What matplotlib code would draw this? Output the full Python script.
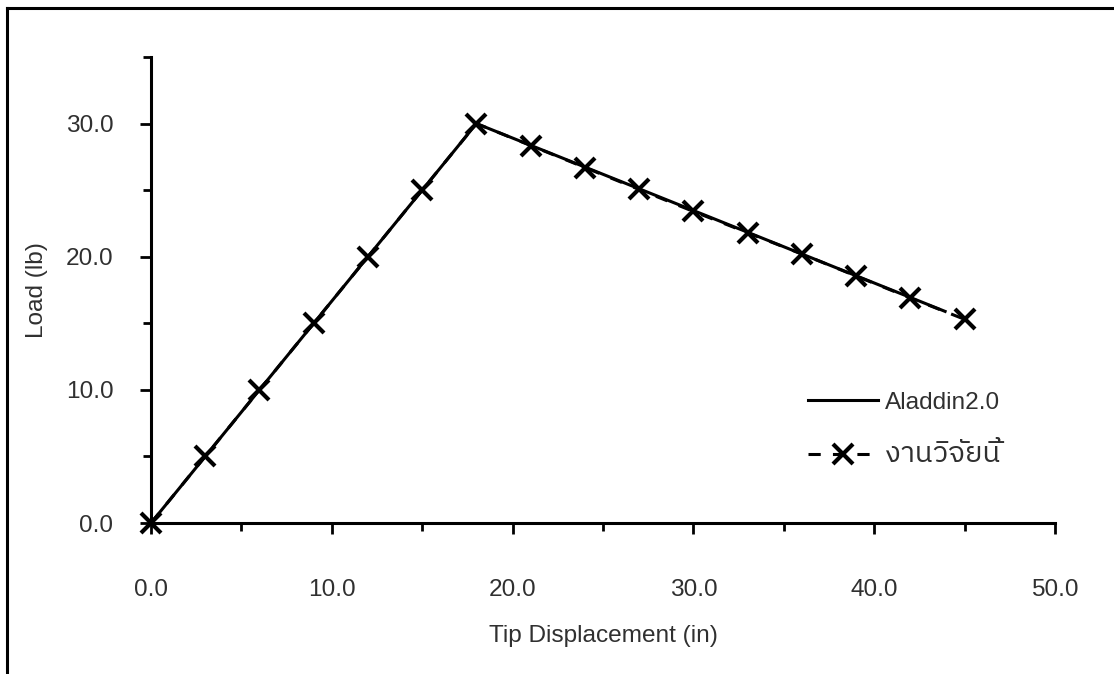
import matplotlib
matplotlib.use("Agg")
import matplotlib.pyplot as plt
from matplotlib import font_manager
from matplotlib.ft2font import FT2Font
from matplotlib.lines import Line2D

# ---- data ----
aladdin_x = [0.0, 18.0, 44.0]
aladdin_y = [0.0, 30.0, 15.85]
study_x = [0, 3, 6, 9, 12, 15, 18, 21, 24, 27, 30, 33, 36, 39, 42, 45]
study_y = [0.0, 5.0, 10.0, 15.0, 20.0, 25.0, 30.0, 28.35, 26.7, 25.05, 23.4,
           21.8, 20.2, 18.55, 16.9, 15.3]
x_ticks = [0, 10, 20, 30, 40, 50]
y_ticks = [0, 10, 20, 30]
label_line = "Aladdin2.0"
label_marks = "งานวิจัยนี้"
x_label = "Tip Displacement (in)"
y_label = "Load (lb)"

# ---- find a font with Thai glyphs ----
thai_font = None
cands = []
for fe in font_manager.fontManager.ttflist:
    try:
        cm = FT2Font(fe.fname).get_charmap()
    except Exception:
        continue
    if ord("ง") in cm and ord("ิ") in cm:
        cands.append(fe.name)
for n in cands:
    if n == "IBM Plex Sans Thai":
        thai_font = n
        break
if thai_font is None:
    for n in cands:
        if "Thai" in n:
            thai_font = n
            break
if thai_font is None and cands:
    thai_font = cands[0]
fams = ["Liberation Sans"] + ([thai_font] if thai_font else []) + ["DejaVu Sans"]
plt.rcParams["font.family"] = fams

W, H = 1114, 674
FS = 17.6
fig = plt.figure(figsize=(W / 100, H / 100), dpi=100)
ax = fig.add_axes([151 / W, 1 - 523 / H, (1055 - 151) / W, (523 - 57) / H])

ink = "black"
txt = "#303030"
ax.plot(aladdin_x, aladdin_y, color=ink, lw=2.2, solid_capstyle="butt", zorder=4)
ax.plot(study_x, study_y, color=ink, lw=2.2, linestyle=(0, (4, 4)), marker="x",
        ms=15, mew=3.0, zorder=3, clip_on=False)

ax.set_xlim(0, 50)
ax.set_ylim(0, 35)
ax.set_xticks(x_ticks)
ax.set_xticklabels([f"{v:.1f}" for v in x_ticks])
ax.set_xticks(list(range(0, 51, 5)), minor=True)
ax.set_yticks(y_ticks)
ax.set_yticklabels([f"{v:.1f}" for v in y_ticks])
ax.set_yticks(list(range(0, 36, 5)), minor=True)

for s in ["top", "right"]:
    ax.spines[s].set_visible(False)
for s in ["left", "bottom"]:
    ax.spines[s].set_linewidth(2.2)
ax.tick_params(which="major", direction="out", length=8, width=2.0,
               labelsize=FS, labelcolor=txt)
ax.tick_params(which="minor", direction="out", length=5.5, width=2.0)
ax.tick_params(axis="x", which="major", pad=32)
ax.tick_params(axis="y", which="major", pad=19)

ax.set_xlabel(x_label, fontsize=FS, color=txt)
ax.xaxis.label.set_va("center")
ax.xaxis.set_label_coords(0.5, (523 - 636) / 466)
ax.set_ylabel(y_label, fontsize=FS, color=txt)
ax.yaxis.label.set_va("center")
ax.yaxis.set_label_coords((37 - 151) / 904, 0.5)

h1 = Line2D([], [], color=ink, lw=2.2)
h2 = Line2D([], [], color=ink, lw=2.2, linestyle=(0, (4, 4)), marker="x",
            ms=15, mew=3.0)
leg = fig.legend([h1, h2], [label_line, label_marks], loc="center left",
                 bbox_to_anchor=(808 / W, 1 - 430 / H), frameon=False,
                 fontsize=FS, handlelength=2.85, handletextpad=0.3,
                 labelspacing=1.1, borderpad=0, borderaxespad=0)
for t in leg.get_texts():
    t.set_color(txt)
leg.get_texts()[1].set_fontsize(21)

# outer frame (left and top edges)
fig.add_artist(Line2D([7 / W, 7 / W], [0, 1 - 8 / H], color=ink, lw=2.2,
                      transform=fig.transFigure))
fig.add_artist(Line2D([7 / W, 1], [1 - 8 / H, 1 - 8 / H], color=ink, lw=2.2,
                      transform=fig.transFigure))

fig.savefig("out.png", dpi=100)
